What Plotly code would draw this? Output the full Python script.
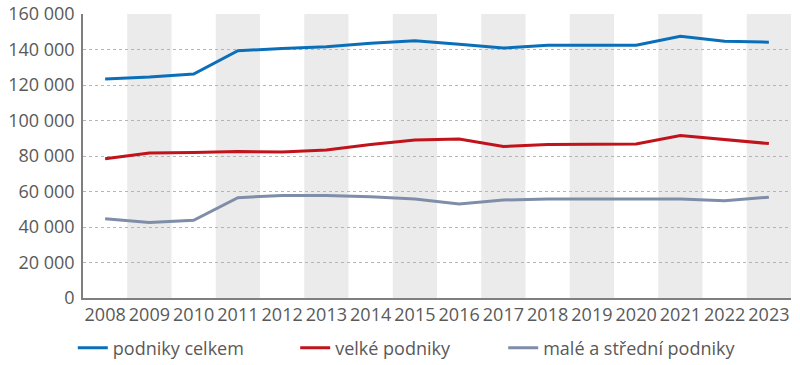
import plotly.graph_objects as go

years = list(range(2008, 2024))
podniky_celkem = [123400, 124500, 126200, 139300, 140500, 141500, 143500, 145000,
                  143000, 140800, 142400, 142400, 142400, 147500, 144600, 144100]
velke_podniky = [78500, 81700, 82000, 82500, 82300, 83400, 86500, 89000,
                 89600, 85400, 86500, 86600, 86800, 91500, 89400, 87000]
male_stredni = [44700, 42600, 43800, 56500, 57800, 57800, 57000, 55800,
                53000, 55200, 55800, 55800, 55500, 55800, 54800, 56800]
y_ticks = [0, 20000, 40000, 60000, 80000, 100000, 120000, 140000, 160000]
y_ticktext = ["0", "20 000", "40 000", "60 000", "80 000", "100 000", "120 000", "140 000", "160 000"]

series = [
    ("podniky celkem", podniky_celkem, "#0a6fb8", "legend", 0.091),
    ("velké podniky", velke_podniky, "#c0131b", "legend2", 0.369),
    ("malé a střední podniky", male_stredni, "#7f8ea8", "legend3", 0.629),
]

txt = "#595959"
fig = go.Figure()
legends = {}
for name, vals, col, lg, lx in series:
    fig.add_trace(go.Scatter(x=years, y=vals, name=name, mode="lines", legend=lg,
                             line=dict(color=col, width=3)))
    legends[lg] = dict(orientation="h", xref="container", yref="container",
                       x=lx, xanchor="left", y=0.0466, yanchor="middle",
                       font=dict(size=18, color=txt), bgcolor="rgba(0,0,0,0)")

shapes = []
for i, yr in enumerate(years):
    if i % 2 == 1:
        shapes.append(dict(type="rect", xref="x", yref="paper", x0=yr - 0.5, x1=yr + 0.5,
                           y0=0, y1=1, fillcolor="#ebebeb", line=dict(width=0), layer="below"))

fig.update_layout(
    width=800, height=365,
    margin=dict(l=83, r=9, t=14, b=67, autoexpand=False),
    paper_bgcolor="white", plot_bgcolor="white",
    font=dict(family="Open Sans", size=18, color=txt),
    shapes=shapes,
    showlegend=True,
    xaxis=dict(range=[2007.5, 2023.5], tickmode="array", tickvals=years,
               ticktext=[str(y) for y in years], showgrid=False, zeroline=False,
               showline=True, linecolor="#7f7f7f", linewidth=1.5, ticks="",
               ticklabelstandoff=0, tickfont=dict(size=18, color=txt), automargin=False),
    yaxis=dict(range=[0, 160000], tickmode="array", tickvals=y_ticks, ticktext=y_ticktext,
               showgrid=True, gridcolor="#b5b5b5", griddash="dot", gridwidth=1,
               zeroline=False, showline=True, linecolor="#7f7f7f", linewidth=1.5,
               ticks="", ticklabelstandoff=3, tickfont=dict(size=18, color=txt),
               automargin=False),
    **legends,
)

# remove the default 8px page margin so the 800x365 figure fills the window exactly
fig.write_html("out.html", config={"displayModeBar": False},
               post_script="document.body.style.margin='0';")
